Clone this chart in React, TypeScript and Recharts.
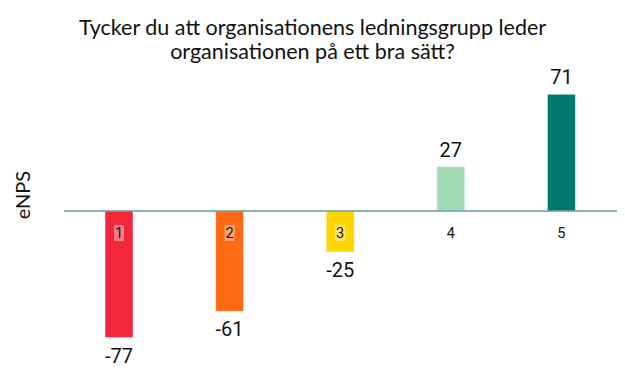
import { BarChart, Bar, XAxis, YAxis, Cell, LabelList, ReferenceLine } from 'recharts';

const categories = ['1', '2', '3', '4', '5'];
const values = [-77, -61, -25, 27, 71];
const barColors = ['#F3263B', '#FF6914', '#FFD500', '#A2DCB5', '#00796E'];

const titleLines = ['Tycker du att organisationens ledningsgrupp leder', 'organisationen på ett bra sätt?'];
const axisLabel = 'eNPS';

const data = categories.map((name, i) => ({ name, value: values[i] }));

// value printed above positive bars, below negative ones
const ValueLabel = (props: any) => {
    const { x, y, width, height, value } = props;
    const top = Math.min(y, y + height);
    const bottom = Math.max(y, y + height);
    const cy = value >= 0 ? top - 17 : bottom + 18;
    return (
        <text x={x + width / 2} y={cy} textAnchor="middle" dominantBaseline="central"
            fontFamily="Roboto" fontSize={20} fill="#111">
            {value}
        </text>
    );
};

// category name sits just under the zero line
const NameLabel = (props: any) => {
    const { x, y, width, height, value, index } = props;
    const zero = values[index] >= 0 ? Math.max(y, y + height) : Math.min(y, y + height);
    const cx = x + width / 2;
    const cy = zero + 22;
    return (
        <g>
            <rect x={cx - 5} y={cy - 8} width={10} height={16} fill="#fff" fillOpacity={0.4} />
            <text x={cx} y={cy} textAnchor="middle" dominantBaseline="central"
                fontFamily="Roboto" fontSize={14.5} fill="#111">
                {value}
            </text>
        </g>
    );
};

export default function App() {
    return (
        <div style={{ position: 'absolute', left: 0, top: 0, width: 625, height: 374, background: '#fff' }}>
            <div style={{ position: 'absolute', left: 0, top: 15, width: 625, textAlign: 'center', fontFamily: 'Lato', fontSize: 21.5, lineHeight: '24px', color: '#111' }}>
                {titleLines.map((l) => <div key={l}>{l}</div>)}
            </div>
            <div style={{ position: 'absolute', left: 22, top: 195, transform: 'translate(-50%, -50%) rotate(-90deg)', fontFamily: 'Lato', fontSize: 20, color: '#111' }}>
                {axisLabel}
            </div>
            <BarChart width={625} height={374} data={data} margin={{ top: 63, right: 8, left: 64, bottom: 15 }}>
                <XAxis dataKey="name" hide />
                <YAxis hide domain={[-90, 90]} />
                <ReferenceLine y={0} stroke="#5F9F98" strokeWidth={1.5} />
                <Bar dataKey="value" barSize={28} stroke="#ffffff" strokeOpacity={0.5} isAnimationActive={false}>
                    {data.map((d, i) => <Cell key={d.name} fill={barColors[i]} />)}
                    <LabelList dataKey="value" content={ValueLabel} />
                    <LabelList dataKey="name" content={NameLabel} />
                </Bar>
            </BarChart>
        </div>
    );
}
